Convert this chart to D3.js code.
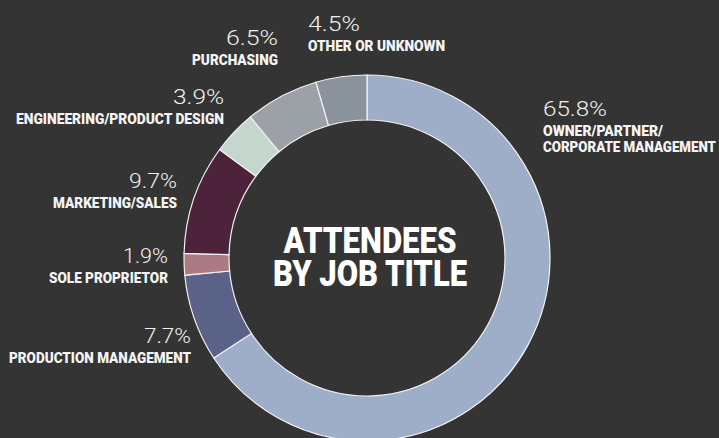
<!DOCTYPE html>
<html>
<head>
<meta charset="utf-8">
<script src="https://cdn.jsdelivr.net/npm/d3@7"></script>
<style>
  html, body { margin: 0; padding: 0; background: #343434; }
  svg { display: block; }
</style>
</head>
<body>
<svg id="chart" width="719" height="438"></svg>
<script>
// ---- data ----
const categories = [
  "OWNER/PARTNER/\nCORPORATE MANAGEMENT",
  "PRODUCTION MANAGEMENT",
  "SOLE PROPRIETOR",
  "MARKETING/SALES",
  "ENGINEERING/PRODUCT DESIGN",
  "PURCHASING",
  "OTHER OR UNKNOWN"
];
const values = [65.8, 7.7, 1.9, 9.7, 3.9, 6.5, 4.5];
const colors = ["#9eadc8", "#5b6288", "#ab7a82", "#4c233b", "#c5d6cf", "#9ca0a7", "#8a929c"];
const titleLines = ["ATTENDEES", "BY JOB TITLE"];

// ---- layout (label anchors: x, baseline of % line, text-anchor, label widths) ----
const labelLayout = [
  { x: 543, y: 116, anchor: "start", pctW: 64, w: [120, 173] },
  { x: 191, y: 343, anchor: "end",   pctW: 47, w: [182] },
  { x: 168, y: 263, anchor: "end",   pctW: 45, w: [119] },
  { x: 177, y: 188, anchor: "end",   pctW: 48, w: [124] },
  { x: 224, y: 104, anchor: "end",   pctW: 51, w: [208] },
  { x: 278, y: 45,  anchor: "end",   pctW: 52, w: [86] },
  { x: 308, y: 31,  anchor: "start", pctW: 52, w: [137] }
];

const W = 719, H = 438;
const cx = 367, cy = 258;
const outerR = 183, innerR = 138;

const svg = d3.select("#chart");
svg.append("rect").attr("width", W).attr("height", H).attr("fill", "#343434");

const pie = d3.pie().sort(null).value(d => d).startAngle(0).endAngle(2 * Math.PI);
const arc = d3.arc().innerRadius(innerR).outerRadius(outerR);
const color = d3.scaleOrdinal().domain(d3.range(values.length)).range(colors);

const g = svg.append("g").attr("transform", `translate(${cx},${cy})`);
g.selectAll("path")
  .data(pie(values))
  .join("path")
  .attr("d", arc)
  .attr("fill", (d, i) => color(i))
  .attr("stroke", "#f2f2f2")
  .attr("stroke-width", 1.2);

// title
const title = svg.append("g");
title.selectAll("text")
  .data(titleLines)
  .join("text")
  .attr("x", 370)
  .attr("y", (d, i) => 253 + i * 33)
  .attr("text-anchor", "middle")
  .attr("fill", "#ffffff")
  .attr("font-family", "Roboto, 'DejaVu Sans', sans-serif")
  .attr("font-weight", 900)
  .attr("font-size", 36)
  .attr("textLength", (d, i) => [173, 194][i])
  .attr("lengthAdjust", "spacingAndGlyphs")
  .text(d => d);

// labels
const fmt = d3.format(".1f");
const lg = svg.append("g");
values.forEach((v, i) => {
  const L = labelLayout[i];
  lg.append("text")
    .attr("x", L.x)
    .attr("y", L.y)
    .attr("text-anchor", L.anchor)
    .attr("fill", "#f0f0f0")
    .attr("font-family", "Roboto, Lato, sans-serif")
    .attr("font-weight", 300)
    .attr("font-size", 20)
    .attr("textLength", L.pctW)
    .attr("lengthAdjust", "spacingAndGlyphs")
    .text(fmt(v) + "%");
  const lines = categories[i].split("\n");
  lines.forEach((ln, j) => {
    lg.append("text")
      .attr("x", L.x)
      .attr("y", L.y + 20 + j * 15.5)
      .attr("text-anchor", L.anchor)
      .attr("fill", "#f4f4f4")
      .attr("font-family", "Roboto, 'DejaVu Sans', sans-serif")
      .attr("font-weight", 900)
      .attr("font-size", 15.5)
      .attr("textLength", L.w[j])
      .attr("lengthAdjust", "spacingAndGlyphs")
      .text(ln);
  });
});
</script>
</body>
</html>
